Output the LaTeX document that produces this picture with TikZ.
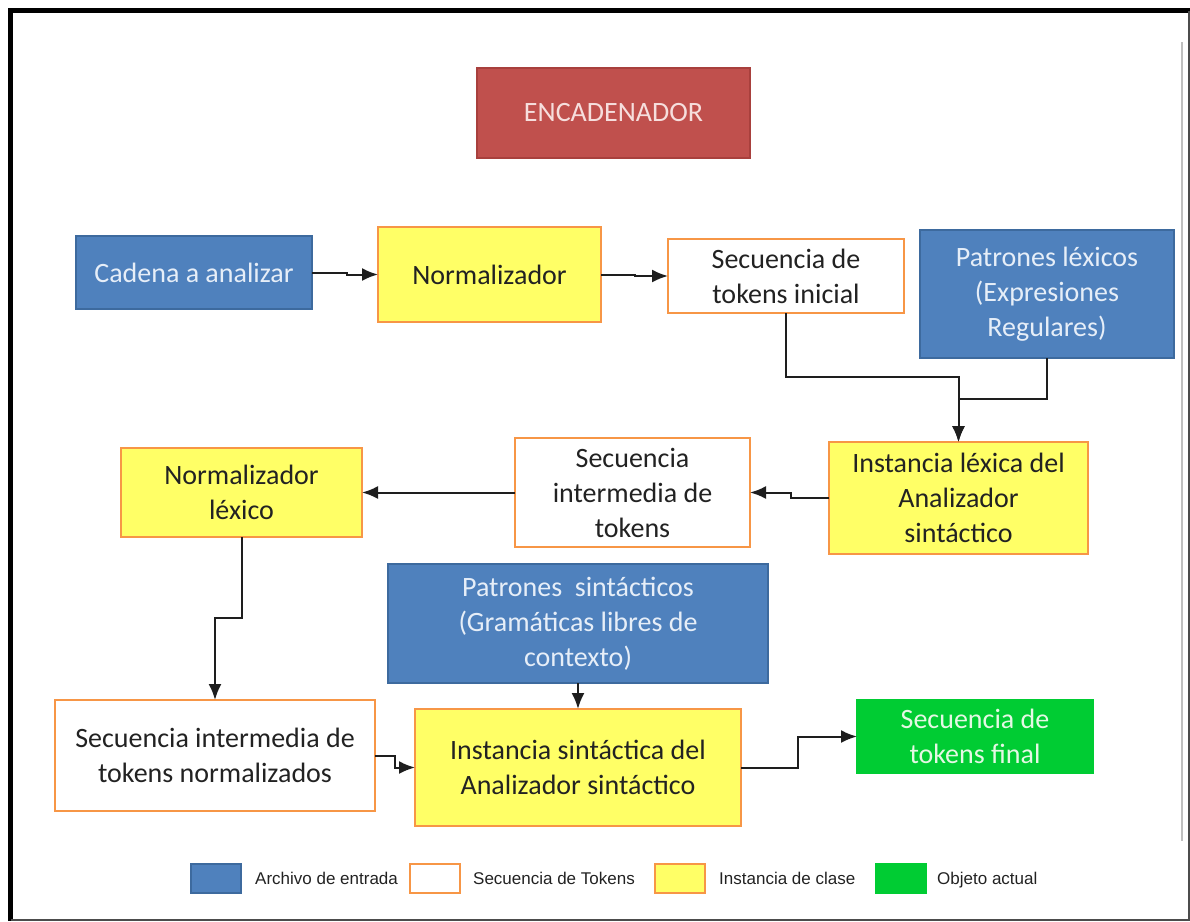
\documentclass[tikz,border=0pt]{standalone}
\usepackage{fontspec}
\setmainfont{Carlito}
\newfontfamily\legfont{Liberation Sans}
\usetikzlibrary{arrows.meta}

\definecolor{inblue}{HTML}{4F81BD}
\definecolor{inblueline}{HTML}{3D6A9E}
\definecolor{inbluetext}{HTML}{E6EEF8}
\definecolor{encred}{HTML}{C0504D}
\definecolor{encredline}{HTML}{A8403D}
\definecolor{encredtext}{HTML}{F6DEDD}
\definecolor{clsyellow}{HTML}{FFFF66}
\definecolor{seqorange}{HTML}{F79646}
\definecolor{objgreen}{HTML}{00CC33}
\definecolor{objgreentext}{HTML}{E4F8E4}
\definecolor{bodytext}{HTML}{222222}
\definecolor{wireclr}{HTML}{1E1E1E}

\tikzset{
  box/.style={rectangle, line width=2pt, outer sep=0pt, inner sep=2pt,
              align=center, font=\fontsize{28}{35}\selectfont},
  inputbox/.style={box, fill=inblue, draw=inblueline, text=inbluetext},
  seqbox/.style={box, fill=white, draw=seqorange, text=bodytext},
  clsbox/.style={box, fill=clsyellow, draw=seqorange, text=bodytext},
  objbox/.style={box, fill=objgreen, draw=objgreen, text=objgreentext},
  encbox/.style={box, fill=encred, draw=encredline, text=encredtext},
  conn/.style={draw=wireclr, line width=2pt,
               -{Latex[length=16pt,width=13pt]}},
  legsw/.style={rectangle, line width=2pt, minimum width=50pt,
                minimum height=29pt, outer sep=0pt},
  legtext/.style={anchor=base west, inner sep=0pt, text=bodytext,
                  font=\legfont\fontsize{17}{20}\selectfont}
}

\begin{document}
\begin{tikzpicture}[x=1pt, y=-1pt]
  \useasboundingbox (0,0) rectangle (1190,921);

  % page frame
  \draw[line width=5pt, black] (10.5,921) -- (10.5,10.5) -- (1190,10.5);
  \draw[line width=2pt, black!70] (1189,10.5) -- (1189,920) -- (10.5,920);
  \draw[line width=2pt, black!25] (1182,42) -- (1182,841);

  % title
  \node[encbox, minimum width=273pt, minimum height=90pt] (enc) at (613.5,113) {ENCADENADOR};

  % first row
  \node[inputbox, minimum width=236pt, minimum height=73pt] (cad) at (194,272.5) {Cadena a analizar};
  \node[clsbox, minimum width=223pt, minimum height=95pt] (norm) at (489.5,274.5) {Normalizador};
  \node[seqbox, minimum width=236pt, minimum height=74pt] (seqi) at (786,276) {Secuencia de\\tokens inicial};
  \node[inputbox, minimum width=254pt, minimum height=128pt] (patl) at (1047,294) {Patrones léxicos\\(Expresiones\\Regulares)};

  % second row
  \node[clsbox, minimum width=259pt, minimum height=112pt] (instl) at (958.5,498) {Instancia léxica del\\Analizador\\sintáctico};
  \node[seqbox, minimum width=235pt, minimum height=109pt] (seqm) at (632.5,492.5) {Secuencia\\intermedia de\\tokens};
  \node[clsbox, minimum width=241pt, minimum height=89pt] (normlx) at (241.5,492.5) {Normalizador\\léxico};

  % third row
  \node[inputbox, minimum width=380pt, minimum height=119pt] (pats) at (578,623.5) {Patrones\ \ sintácticos\\(Gramáticas libres de\\contexto)};
  \node[seqbox, minimum width=320pt, minimum height=111pt] (seqn) at (215,755.5) {Secuencia intermedia de\\tokens normalizados};
  \node[clsbox, minimum width=326pt, minimum height=117pt] (insts) at (578,767.5) {Instancia sintáctica del\\Analizador sintáctico};
  \node[objbox, minimum width=236pt, minimum height=73pt] (fin) at (975,736.5) {Secuencia de\\tokens final};

  % connectors
  \draw[conn] (cad.east) -- ++(35,0) |- (norm.west);
  \draw[conn] (norm.east) -- ++(34,0) |- (seqi.west);
  \draw[conn] (seqi.south) -- ++(0,64) -| (instl.north);
  \draw[conn] (patl.south) -- ++(0,41) -| (instl.north);
  \draw[conn] (instl.west) -- ++(-38,0) |- (seqm.east);
  \draw[conn] (seqm.west) -- (normlx.east);
  \draw[conn] (normlx.south) -- ++(0,81) -| (seqn.north);
  \draw[conn] (pats.south) -- (insts.north);
  \draw[conn] (seqn.east) -- ++(20,0) |- (insts.west);
  \draw[conn] (insts.east) -- ++(57,0) |- (fin.west);

  % legend
  \node[legsw, fill=inblue, draw=inblueline] (lg1) at (216,878.5) {};
  \node[legtext] (lt1) at (255,884) {Archivo de entrada};
  \node[legsw, fill=white, draw=seqorange] (lg2) at (434.5,878.5) {};
  \node[legtext] (lt2) at (473,884) {Secuencia de Tokens};
  \node[legsw, fill=clsyellow, draw=seqorange] (lg3) at (680,878.5) {};
  \node[legtext] (lt3) at (719,884) {Instancia de clase};
  \node[legsw, fill=objgreen, draw=objgreen] (lg4) at (900.5,878.5) {};
  \node[legtext] (lt4) at (937,884) {Objeto actual};
\end{tikzpicture}
\end{document}
